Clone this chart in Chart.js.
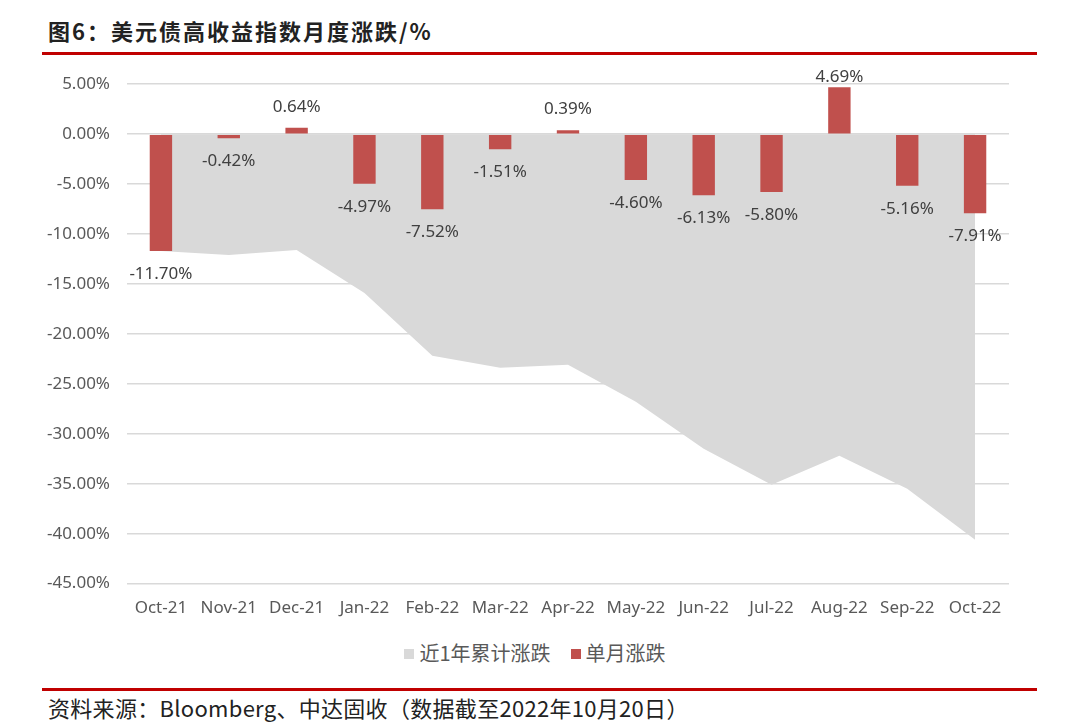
<!DOCTYPE html>
<html><head><meta charset="utf-8">
<script src="https://cdn.jsdelivr.net/npm/chart.js@4.4.0/dist/chart.umd.min.js"></script>
<style>
html,body{margin:0;padding:0;background:#fff;width:1080px;height:722px;overflow:hidden;font-family:"Noto Sans CJK SC","Noto Sans",sans-serif;}
#title{position:absolute;left:48px;top:14px;font-size:22px;font-weight:bold;color:#222;letter-spacing:2px;}
#tline{position:absolute;left:42px;top:52px;width:995px;height:3px;background:#c00000;}
#wrap{position:absolute;left:20px;top:57px;width:1000px;height:567px;}
#legend{position:absolute;top:638px;left:0;width:1070px;text-align:center;font-size:20px;color:#595959;}
#legend span.box{display:inline-block;width:10px;height:10px;margin-right:5px;vertical-align:middle;position:relative;top:-2px;}
#legend span.item{margin:0 10px;}
#fline{position:absolute;left:42px;top:688px;width:995px;height:3px;background:#c00000;}
#foot{position:absolute;left:48px;top:691px;font-size:22px;color:#222;letter-spacing:0.3px;}
</style></head>
<body>
<div id="title">图6：美元债高收益指数月度涨跌/%</div>
<div id="tline"></div>
<div id="wrap"><canvas id="c"></canvas></div>
<div id="legend"><span class="item"><span class="box" style="background:#d9d9d9"></span>近1年累计涨跌</span><span class="item"><span class="box" style="background:#c0504d"></span>单月涨跌</span></div>
<div id="fline"></div>
<div id="foot">资料来源：Bloomberg、中达固收（数据截至2022年10月20日）</div>
<script>
const categories = ["Oct-21","Nov-21","Dec-21","Jan-22","Feb-22","Mar-22","Apr-22","May-22","Jun-22","Jul-22","Aug-22","Sep-22","Oct-22"];
const monthly = [-11.70,-0.42,0.64,-4.97,-7.52,-1.51,0.39,-4.60,-6.13,-5.80,4.69,-5.16,-7.91];
const cumulative = [-11.7,-12.1,-11.6,-15.9,-22.2,-23.4,-23.1,-26.8,-31.5,-35.1,-32.2,-35.5,-40.6];
const seriesNames = ["近1年累计涨跌","单月涨跌"];

const labelPlugin = {
  id:'barLabels',
  afterDatasetsDraw(chart){
    const ctx = chart.ctx;
    const meta = chart.getDatasetMeta(1);
    const top = chart.chartArea.top;
    ctx.save();
    ctx.font = '17px "Noto Sans", sans-serif';
    ctx.fillStyle = '#404040';
    ctx.textAlign = 'center';
    ctx.textBaseline = 'middle';
    meta.data.forEach((el,i)=>{
      const v = monthly[i];
      const y = v >= 0 ? Math.max(el.y - 21, top - 7) : el.y + 23;
      ctx.fillText(v.toFixed(2)+'%', el.x, y);
    });
    ctx.restore();
  }
};

new Chart(document.getElementById('c'),{
  type:'bar',
  data:{
    labels:categories,
    datasets:[
      {type:'line',label:seriesNames[0],data:cumulative,backgroundColor:'#d9d9d9',borderWidth:0,borderColor:'#d9d9d9',pointRadius:0,tension:0,fill:'origin',order:2},
      {type:'bar',label:seriesNames[1],data:monthly,backgroundColor:'#c0504d',barPercentage:0.33,categoryPercentage:1,order:1}
    ]
  },
  options:{
    responsive:true,maintainAspectRatio:false,animation:false,
    layout:{padding:{top:12,right:11,bottom:0,left:0}},
    plugins:{legend:{display:false},tooltip:{enabled:false}},
    scales:{
      x:{offset:true,grid:{display:false},border:{display:false},
         ticks:{font:{family:'"Noto Sans", sans-serif',size:17},color:'#595959',padding:6,maxRotation:0}},
      y:{min:-45,max:5,
         afterFit(s){s.width=107;},
         grid:{color:'#d9d9d9',lineWidth:1.5,drawTicks:false},border:{display:false},
         ticks:{stepSize:5,padding:17,font:{family:'"Noto Sans", sans-serif',size:17},color:'#595959',
           callback:v=>v.toFixed(2)+'%'}}
    }
  },
  plugins:[labelPlugin]
});
</script>
</body></html>
